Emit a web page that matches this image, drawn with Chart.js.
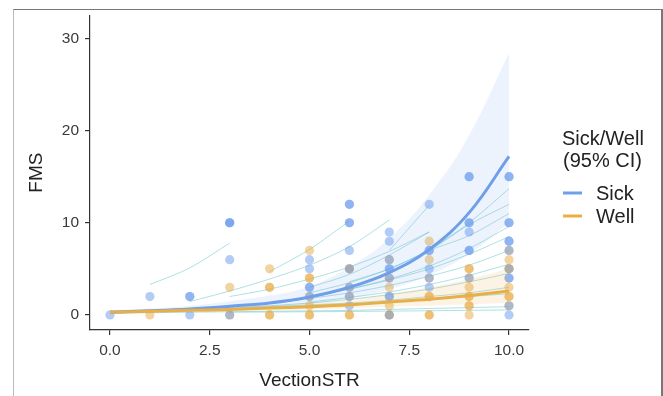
<!DOCTYPE html>
<html>
<head>
<meta charset="utf-8">
<script src="https://cdn.jsdelivr.net/npm/chart.js@4.4.0/dist/chart.umd.min.js"></script>
<style>
  html, body { margin: 0; padding: 0; background: #fff; }
  #wrap { position: relative; width: 663px; height: 396px; overflow: hidden; }
  #frame { position: absolute; left: 13px; top: 9px; width: 647px; height: 400px;
           border-top: 1px solid #777; border-left: 1px solid #bbb; border-right: 2px solid #777; }
  canvas { position: absolute; left: 0; top: 0; }
</style>
</head>
<body>
<div id="wrap"><div id="frame"></div><canvas id="chart" width="663" height="396"></canvas></div>
<script>
const FONT = '"Liberation Sans", Arial, sans-serif';
const xTicks = [0, 2.5, 5, 7.5, 10];
const yTicks = [0, 10, 20, 30];
const seriesNames = ['Sick', 'Well'];
const legendTitle = ['Sick/Well', '(95% CI)'];

// fitted curves, read at each VectionSTR step
const fitX = [0, 1, 2, 3, 4, 5, 6, 7, 8, 9, 10];
const sickFit = [0.3, 0.45, 0.65, 0.95, 1.3, 1.95, 3.0, 4.6, 7.1, 11.1, 17.2];
const sickLower = [0.15, 0.25, 0.4, 0.6, 0.85, 1.2, 1.8, 2.8, 4.3, 6.6, 10.0];
const sickUpper = [0.55, 0.7, 1.0, 1.5, 2.1, 3.1, 5.2, 8.3, 13.0, 19.5, 28.4];
const wellFit = [0.3, 0.4, 0.5, 0.6, 0.75, 0.9, 1.1, 1.4, 1.7, 2.1, 2.6];
const wellLower = [0.15, 0.22, 0.3, 0.38, 0.5, 0.6, 0.75, 0.9, 1.0, 1.15, 1.3];
const wellUpper = [0.5, 0.6, 0.7, 0.85, 1.0, 1.3, 1.7, 2.3, 3.0, 3.9, 5.0];

// observed points (repeats = overlapping observations)
const sickPoints = [
  [0,0], [1,2], [2,2],[2,2],[2,0],
  [3,10],[3,10],[3,10],[3,6],[3,0],
  [5,6],[5,5],[5,3],[5,3],[5,2],
  [6,12],[6,12],[6,10],[6,10],[6,7],[6,5],[6,3],[6,2],[6,1],
  [7,9],[7,8],[7,6],[7,5],[7,5],[7,4],[7,2],[7,2],[7,0],
  [8,12],[8,7],[8,7],[8,5],[8,4],[8,3],
  [9,15],[9,15],[9,10],[9,10],[9,9],[9,7],[9,7],[9,4],
  [10,15],[10,15],[10,10],[10,10],[10,8],[10,8],[10,7],[10,5],[10,4],[10,4],[10,1],[10,0]
];
const wellPoints = [
  [1,0], [3,3],[3,0],
  [4,5],[4,3],[4,3],[4,0],[4,0],
  [5,7],[5,4],[5,4],[5,2],[5,1],[5,0],[5,0],
  [6,5],[6,5],[6,3],[6,2],[6,0],[6,0],
  [7,6],[7,4],[7,3],[7,1],[7,0],[7,0],
  [8,8],[8,6],[8,4],[8,2],[8,2],[8,0],[8,0],
  [9,5],[9,5],[9,4],[9,3],[9,2],[9,2],[9,1],[9,1],[9,0],
  [10,7],[10,6],[10,5],[10,5],[10,3],[10,2],[10,2],[10,1]
];

// per-subject predicted lines: [first VectionSTR, values]
const subjectLines = [
  [1, [3.3, 5.1, 7.8]],
  [2, [1.45, 2.6, 3.9, 5.4, 7.4, 10.3]],
  [3, [2.0, 2.8, 3.9, 5.2, 6.9, 9.0]],
  [4, [4.7, 7.1, 10.2]],
  [5, [3.0, 4.4, 6.5, 9.0]],
  [7, [7.0, 11.9]],
  [8, [7.0, 10.0, 13.7]],
  [6, [3.6, 5.0, 7.0, 9.8, 12.0]],
  [5, [2.4, 3.5, 5.0, 7.0, 8.6, 11.0]],
  [6, [2.8, 3.9, 5.3, 7.2, 9.6]],
  [5, [2.0, 2.8, 3.8, 5.0, 6.6, 8.5]],
  [4, [1.3, 1.8, 2.4, 3.2, 4.2, 5.4, 7.0]],
  [5, [1.4, 1.9, 2.5, 3.3, 4.3, 5.5]],
  [3, [0.8, 1.0, 1.3, 1.7, 2.2, 2.8, 3.6, 4.5]],
  [2, [0.6, 0.7, 0.9, 1.1, 1.3, 1.6, 2.0, 2.4, 3.0]],
  [0, [0.2, 0.25, 0.3, 0.35, 0.4, 0.45, 0.5, 0.6, 0.7, 0.8, 0.9]],
  [3, [0.3, 0.32, 0.35, 0.38, 0.42, 0.46, 0.5, 0.55]],
  [4, [0.8, 1.0, 1.2, 1.4, 1.7, 2.0, 2.3]]
];

const SICK = '#6f9fea';
const WELL = '#e8ae47';

function xy(xs, ys){ return ys.map((y, i) => ({x: xs[i], y: y})); }

const datasets = [];
subjectLines.forEach(([x0, vals]) => {
  datasets.push({
    data: vals.map((v, i) => ({x: x0 + i, y: v})),
    showLine: true, borderColor: 'rgba(95,195,200,0.5)', borderWidth: 1,
    pointRadius: 0, tension: 0.3, fill: false, order: 6
  });
});
datasets.push({
  data: sickPoints.map(p => ({x: p[0], y: p[1]})),
  pointRadius: 4.6, pointBackgroundColor: 'rgba(109,158,235,0.52)', pointBorderWidth: 0, order: 5
});
datasets.push({
  data: wellPoints.map(p => ({x: p[0], y: p[1]})),
  pointRadius: 4.6, pointBackgroundColor: 'rgba(232,172,72,0.52)', pointBorderWidth: 0, order: 5
});
function band(lower, upper, color){
  const i = datasets.length;
  datasets.push({ data: xy(fitX, lower), showLine: true, borderWidth: 0, borderColor: 'rgba(0,0,0,0)',
    pointRadius: 0, tension: 0.4, fill: false, order: 3 });
  datasets.push({ data: xy(fitX, upper), showLine: true, borderWidth: 0, borderColor: 'rgba(0,0,0,0)',
    pointRadius: 0, tension: 0.4, fill: i, backgroundColor: color, order: 3 });
}
band(sickLower, sickUpper, 'rgba(109,158,235,0.12)');
band(wellLower, wellUpper, 'rgba(232,172,72,0.14)');
datasets.push({ data: xy(fitX, wellFit), showLine: true, borderColor: WELL, borderWidth: 3,
  pointRadius: 0, tension: 0.4, fill: false, order: 1 });
datasets.push({ data: xy(fitX, sickFit), showLine: true, borderColor: SICK, borderWidth: 3,
  pointRadius: 0, tension: 0.4, fill: false, order: 1 });

const legendPlugin = {
  id: 'sideLegend',
  afterDraw(chart){
    const ctx = chart.ctx;
    ctx.save();
    ctx.fillStyle = '#222';
    ctx.font = '20px ' + FONT;
    ctx.textBaseline = 'alphabetic';
    ctx.fillText(legendTitle[0], 562, 145);
    ctx.fillText(legendTitle[1], 563, 167);
    [SICK, WELL].forEach((c, i) => {
      const y = 193 + i * 23;
      ctx.strokeStyle = c; ctx.lineWidth = 3;
      ctx.beginPath(); ctx.moveTo(563, y); ctx.lineTo(582, y); ctx.stroke();
      ctx.fillText(seriesNames[i], 596, y + 7);
    });
    ctx.restore();
  }
};

new Chart(document.getElementById('chart'), {
  type: 'scatter',
  data: { datasets: datasets },
  options: {
    responsive: false,
    animation: false,
    layout: { padding: { left: 0, right: 134, top: 15, bottom: 0 } },
    plugins: { legend: { display: false }, tooltip: { enabled: false } },
    scales: {
      x: {
        type: 'linear', min: -0.5, max: 10.5,
        afterBuildTicks: s => { s.ticks = xTicks.map(v => ({value: v})); },
        afterFit: s => { s.height = 66; },
        ticks: { callback: v => v.toFixed(1), color: '#3a3a3a', font: { family: FONT, size: 15.5 }, padding: 6 },
        grid: { drawOnChartArea: false, drawTicks: true, tickLength: 5, color: '#333', lineWidth: 1.2 },
        border: { color: '#333', width: 1.2 },
        title: { display: true, text: 'VectionSTR', color: '#222', font: { family: FONT, size: 19 }, padding: { top: 6, bottom: 4 } }
      },
      y: {
        min: -1.63, max: 32.5,
        afterBuildTicks: s => { s.ticks = yTicks.map(v => ({value: v})); },
        afterFit: s => { s.width = 90; },
        ticks: { color: '#3a3a3a', font: { family: FONT, size: 15.5 }, padding: 6 },
        grid: { drawOnChartArea: false, drawTicks: true, tickLength: 5, color: '#333', lineWidth: 1.2 },
        border: { color: '#333', width: 1.2 },
        title: { display: true, text: 'FMS', color: '#222', font: { family: FONT, size: 19 }, padding: { top: 25, bottom: 0 } }
      }
    }
  },
  plugins: [legendPlugin]
});
</script>
</body>
</html>
